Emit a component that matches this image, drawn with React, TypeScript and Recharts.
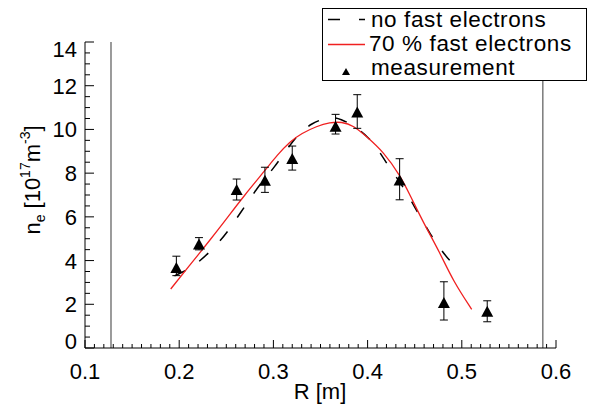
import { ComposedChart, Line, Scatter, XAxis, YAxis, ErrorBar, ReferenceLine } from 'recharts';

const FONT = '"Liberation Sans", Arial, Helvetica, sans-serif';

// tick labels
const xMajorTicks = [0.1, 0.2, 0.3, 0.4, 0.5, 0.6];
const yMajorTicks = [0, 2, 4, 6, 8, 10, 12, 14];
const xMinorStep = 0.01;
const yMinorStep = 0.5;

// wall positions (gray vertical lines)
const wallR = [0.1276, 0.586];

// no fast electrons (dashed)
const noFastR = [0.195, 0.21, 0.2196, 0.2309, 0.2426, 0.2522, 0.2617, 0.2702, 0.2797, 0.2893, 0.3, 0.3176, 0.3282, 0.3406, 0.3548, 0.365, 0.3707, 0.3848, 0.4025, 0.4131, 0.4202, 0.4291, 0.4362, 0.445, 0.4503, 0.4592, 0.468, 0.4769, 0.4875, 0.4992];
const noFastNe = [3.3, 3.6, 3.9, 4.33, 4.86, 5.37, 5.98, 6.51, 7.12, 7.68, 8.2, 9.3, 9.85, 10.28, 10.52, 10.55, 10.48, 10.2, 9.59, 8.95, 8.45, 7.9, 7.46, 6.85, 6.4, 5.78, 5.1, 4.56, 3.95, 3.54];

// 70 % fast electrons (red)
const fastR = [0.191, 0.21, 0.2327, 0.25, 0.268, 0.2929, 0.3035, 0.3176, 0.33, 0.346, 0.36, 0.3725, 0.385, 0.399, 0.4167, 0.4344, 0.445, 0.459, 0.4769, 0.491, 0.5105];
const fastNe = [2.7, 3.72, 4.94, 5.9, 6.92, 8.22, 8.8, 9.45, 9.82, 10.15, 10.32, 10.35, 10.18, 9.67, 8.98, 7.9, 7.0, 5.75, 4.35, 3.05, 1.77];

// measurement
const measR = [0.197, 0.221, 0.261, 0.291, 0.32, 0.366, 0.389, 0.434, 0.481, 0.527];
const measNe = [3.66, 4.74, 7.23, 7.65, 8.65, 10.12, 10.78, 7.66, 2.06, 1.66];
const errLow = [0.35, 0.25, 0.46, 0.53, 0.51, 0.33, 0.73, 0.88, 0.78, 0.46];
const errHigh = [0.54, 0.31, 0.5, 0.62, 0.59, 0.57, 0.81, 1.0, 0.97, 0.5];

const xTicks: number[] = [];
for (let v = 0.1; v <= 0.6 + 1e-9; v += xMinorStep) xTicks.push(+v.toFixed(2));
const yTicks: number[] = [];
for (let v = 0; v <= 14 + 1e-9; v += yMinorStep) yTicks.push(v);

const noFastData = noFastR.map((r, i) => ({ r, ne: noFastNe[i] }));
const fastData = fastR.map((r, i) => ({ r, ne: fastNe[i] }));
const measData = measR.map((r, i) => ({ r, ne: measNe[i], err: [errLow[i], errHigh[i]] }));

const isMajor = (v: number, majors: number[]) => majors.some((m) => Math.abs(m - v) < 1e-6);

const BottomTick = (props: any) => {
  const { x, y, payload } = props;
  const major = isMajor(payload.value, xMajorTicks);
  return (
    <g>
      <line x1={x} x2={x} y1={y} y2={y - (major ? 8 : 4)} stroke="#000" />
      {major && (
        <text x={x} y={y + 31} textAnchor="middle" fontSize={22} fontFamily={FONT} fill="#000">
          {payload.value.toFixed(1)}
        </text>
      )}
    </g>
  );
};

const TopTick = (props: any) => {
  const { x, y, payload } = props;
  const major = isMajor(payload.value, xMajorTicks);
  return <line x1={x} x2={x} y1={y} y2={y + (major ? 8 : 4)} stroke="#000" />;
};

const LeftTick = (props: any) => {
  const { x, y, payload } = props;
  const v = payload.value;
  const major = isMajor(v, yMajorTicks);
  // end labels sit inside the frame
  const shift = v === 0 ? -7 : v === 14 ? 7 : 0;
  return (
    <g>
      <line x1={x} x2={x + (major ? 9 : 5)} y1={y} y2={y} stroke="#000" />
      {major && (
        <text x={x - 8} y={y + shift + 8} textAnchor="end" fontSize={22} fontFamily={FONT} fill="#000">
          {v}
        </text>
      )}
    </g>
  );
};

const RightTick = (props: any) => {
  const { x, y, payload } = props;
  const major = isMajor(payload.value, yMajorTicks);
  return <line x1={x} x2={x - (major ? 9 : 5)} y1={y} y2={y} stroke="#000" />;
};

const Triangle = (props: any) => {
  const { cx, cy } = props;
  if (cx == null || cy == null) return null;
  return <polygon points={`${cx},${cy - 6} ${cx - 6},${cy + 5} ${cx + 6},${cy + 5}`} fill="#000" />;
};

const YTitle = () => (
  <text transform="translate(40,180) rotate(-90)" textAnchor="middle" fontSize={22} fontFamily={FONT} fill="#000">
    n<tspan fontSize={14} dy={5}>e</tspan>
    <tspan dy={-5}> [10</tspan>
    <tspan fontSize={14} dy={-10}>17</tspan>
    <tspan dy={10}>m</tspan>
    <tspan fontSize={14} dy={-10}>-3</tspan>
    <tspan dy={10}>]</tspan>
  </text>
);

const legendText = { fontSize: 22.5, fontFamily: FONT, fill: '#000', letterSpacing: 0.6 };

export default function App() {
  return (
    <div style={{ position: 'absolute', left: 0, top: 0, width: 591, height: 408, background: '#fff' }}>
      <ComposedChart width={591} height={408} margin={{ top: 42, right: 35, bottom: 0, left: 0 }}>
        <XAxis
          xAxisId="b"
          dataKey="r"
          type="number"
          domain={[0.1, 0.6]}
          ticks={xTicks}
          interval={0}
          tickSize={0}
          tickMargin={0}
          tickLine={false}
          tick={<BottomTick />}
          height={60}
          axisLine={{ stroke: '#000' }}
        />
        <XAxis
          xAxisId="t"
          orientation="top"
          type="number"
          domain={[0.1, 0.6]}
          ticks={xTicks}
          interval={0}
          tickSize={0}
          tickMargin={0}
          tickLine={false}
          tick={<TopTick />}
          height={0}
          axisLine={{ stroke: '#000' }}
        />
        <YAxis
          yAxisId="l"
          type="number"
          domain={[0, 14]}
          ticks={yTicks}
          interval={0}
          tickSize={0}
          tickMargin={0}
          tickLine={false}
          tick={<LeftTick />}
          width={85}
          axisLine={{ stroke: '#000' }}
        />
        <YAxis
          yAxisId="r"
          orientation="right"
          type="number"
          domain={[0, 14]}
          ticks={yTicks}
          interval={0}
          tickSize={0}
          tickMargin={0}
          tickLine={false}
          tick={<RightTick />}
          width={0}
          axisLine={{ stroke: '#000' }}
        />
        {wallR.map((r) => (
          <ReferenceLine key={r} x={r} xAxisId="b" yAxisId="l" stroke="#7a7a7a" strokeWidth={1.5} />
        ))}
        <Line
          xAxisId="b"
          yAxisId="l"
          data={noFastData}
          dataKey="ne"
          type="basis"
          stroke="#000"
          strokeWidth={1.5}
          strokeDasharray="12 17"
          dot={false}
          isAnimationActive={false}
        />
        <Line
          xAxisId="b"
          yAxisId="l"
          data={fastData}
          dataKey="ne"
          type="basis"
          stroke="#f02020"
          strokeWidth={1.3}
          dot={false}
          isAnimationActive={false}
        />
        <Scatter
          xAxisId="b"
          yAxisId="l"
          data={measData}
          dataKey="ne"
          shape={<Triangle />}
          isAnimationActive={false}
        >
          <ErrorBar dataKey="err" direction="y" width={4} stroke="#000" strokeWidth={1} />
        </Scatter>
      </ComposedChart>
      <svg width={591} height={408} style={{ position: 'absolute', left: 0, top: 0, pointerEvents: 'none' }}>
        <YTitle />
        <text x={320} y={399} textAnchor="middle" fontSize={22} fontFamily={FONT} fill="#000">
          R [m]
        </text>
        <rect x={322.5} y={8.5} width={264} height={72} fill="#fff" stroke="#000" />
        <line x1={328} x2={365} y1={19.5} y2={19.5} stroke="#000" strokeWidth={1.5} strokeDasharray="12 19" />
        <text x={371} y={27} {...legendText}>no fast electrons</text>
        <line x1={328} x2={365} y1={44.5} y2={44.5} stroke="#f02020" strokeWidth={1.3} />
        <text x={369} y={51} {...legendText}>70 % fast electrons</text>
        <polygon points="346,68 342,75 350,75" fill="#000" />
        <text x={371} y={75} {...legendText}>measurement</text>
      </svg>
    </div>
  );
}
